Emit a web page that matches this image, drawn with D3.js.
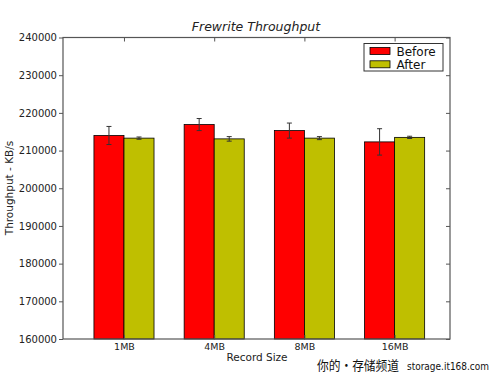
<!DOCTYPE html>
<html>
<head>
<meta charset="utf-8">
<script src="https://cdn.jsdelivr.net/npm/d3@7"></script>
<style>
  body { margin: 0; background: #fff; }
  svg { display: block; font-family: "DejaVu Sans", sans-serif; }
</style>
</head>
<body>
<svg id="chart" width="500" height="377"></svg>
<script>
var categories = ["1MB", "4MB", "8MB", "16MB"];
var beforeValues = [214000, 216900, 215300, 212300];
var beforeErrors = [2400, 1600, 2000, 3500];
var afterValues = [213300, 213100, 213300, 213500];
var afterErrors = [300, 600, 400, 300];
var yTicks = [160000, 170000, 180000, 190000, 200000, 210000, 220000, 230000, 240000];
var seriesNames = ["Before", "After"];
var seriesColors = ["#ff0000", "#bfbf00"];

var svg = d3.select("#chart");
var plotLeft = 63, plotRight = 450, plotTop = 37.5, plotBottom = 339;

// group index -> pixel, groups sit at integer positions
var x = d3.scaleLinear().domain([-0.676, 3.614]).range([plotLeft, plotRight]);
var y = d3.scaleLinear().domain([160000, 240000]).range([plotBottom, plotTop]);
var barW = 0.333;

var series = [
   { name: seriesNames[0], color: seriesColors[0], values: beforeValues, errors: beforeErrors, off: -barW },
   { name: seriesNames[1], color: seriesColors[1], values: afterValues, errors: afterErrors, off: 0 }
];

series.forEach(function(s) {
   var g = svg.append("g");
   g.selectAll("rect").data(s.values).enter().append("rect")
      .attr("x", function(d, i) { return x(i + s.off); })
      .attr("width", function() { return x(barW) - x(0); })
      .attr("y", function(d) { return y(d); })
      .attr("height", function(d) { return plotBottom - y(d); })
      .attr("fill", s.color)
      .attr("stroke", "#000")
      .attr("stroke-width", 0.8);

   g.selectAll("g.err").data(s.values).enter().append("g").attr("class", "err")
      .each(function(d, i) {
         var c = d3.select(this);
         var cx = x(i + s.off + barW / 2);
         var e = s.errors[i];
         c.append("line").attr("x1", cx).attr("x2", cx)
            .attr("y1", y(d - e)).attr("y2", y(d + e))
            .attr("stroke", "#333").attr("stroke-width", 1);
         [d - e, d + e].forEach(function(v) {
            c.append("line").attr("x1", cx - 2.5).attr("x2", cx + 2.5)
               .attr("y1", y(v)).attr("y2", y(v))
               .attr("stroke", "#333").attr("stroke-width", 1);
         });
      });
});

// frame
svg.append("rect")
   .attr("x", plotLeft).attr("y", plotTop)
   .attr("width", plotRight - plotLeft).attr("height", plotBottom - plotTop)
   .attr("fill", "none").attr("stroke", "#555").attr("stroke-width", 1.2);

// y axis (left, outward ticks)
var yAxis = svg.append("g").attr("transform", "translate(" + plotLeft + ",0)")
   .call(d3.axisLeft(y).tickValues(yTicks).tickSize(4).tickPadding(2).tickFormat(d3.format("d")));
yAxis.select(".domain").remove();
yAxis.selectAll("line").attr("stroke", "#555");
yAxis.selectAll("text").attr("font-size", 10).attr("fill", "#222").attr("font-family", "DejaVu Sans");

// right side inward ticks
var yRight = svg.append("g").attr("transform", "translate(" + plotRight + ",0)")
   .call(d3.axisRight(y).tickValues(yTicks).tickSize(-4).tickFormat(""));
yRight.select(".domain").remove();
yRight.selectAll("line").attr("stroke", "#555");

// x axis labels and top ticks
var xAxis = svg.append("g").attr("transform", "translate(0," + plotBottom + ")")
   .call(d3.axisBottom(x).tickValues(d3.range(categories.length)).tickSize(-4).tickPadding(4)
      .tickFormat(function(d) { return categories[d]; }));
xAxis.select(".domain").remove();
xAxis.selectAll("line").attr("stroke", "#555");
xAxis.selectAll("text").attr("font-size", 9.5).attr("fill", "#222").attr("font-family", "DejaVu Sans");

var xTop = svg.append("g").attr("transform", "translate(0," + plotTop + ")")
   .call(d3.axisTop(x).tickValues(d3.range(categories.length)).tickSize(-4).tickFormat(""));
xTop.select(".domain").remove();
xTop.selectAll("line").attr("stroke", "#555");

// title and axis labels
svg.append("text").attr("x", 256).attr("y", 31).attr("text-anchor", "middle")
   .attr("font-size", 12.5).attr("font-style", "italic").attr("fill", "#222")
   .text("Frewrite Throughput");

svg.append("text").attr("x", 257).attr("y", 361).attr("text-anchor", "middle")
   .attr("font-size", 10.5).attr("fill", "#222").text("Record Size");

svg.append("text").attr("transform", "translate(13,188) rotate(-90)").attr("text-anchor", "middle")
   .attr("font-size", 10.5).attr("fill", "#222").text("Throughput - KB/s");

// legend
var legend = svg.append("g");
legend.append("rect").attr("x", 364).attr("y", 43.5).attr("width", 79).attr("height", 27.5)
   .attr("fill", "#fff").attr("stroke", "#333").attr("stroke-width", 1);
series.forEach(function(s, i) {
   legend.append("rect").attr("x", 370).attr("y", 47.5 + i * 13.3).attr("width", 20).attr("height", 7)
      .attr("fill", s.color).attr("stroke", "#000").attr("stroke-width", 0.8);
   legend.append("text").attr("x", 396.5).attr("y", 55.5 + i * 13.3)
      .attr("font-size", 12).attr("fill", "#111").text(s.name);
});

// watermark
svg.append("text").attr("x", 317).attr("y", 370)
   .attr("font-size", 13).attr("fill", "#111").attr("font-family", "'Noto Sans CJK SC', sans-serif")
   .attr("textLength", 82).attr("lengthAdjust", "spacingAndGlyphs")
   .text("你的・存储频道");
svg.append("text").attr("x", 407).attr("y", 370)
   .attr("font-size", 10).attr("fill", "#111").attr("font-family", "'DejaVu Sans Condensed', sans-serif")
   .attr("textLength", 82).attr("lengthAdjust", "spacingAndGlyphs")
   .text("storage.it168.com");
</script>
</body>
</html>
